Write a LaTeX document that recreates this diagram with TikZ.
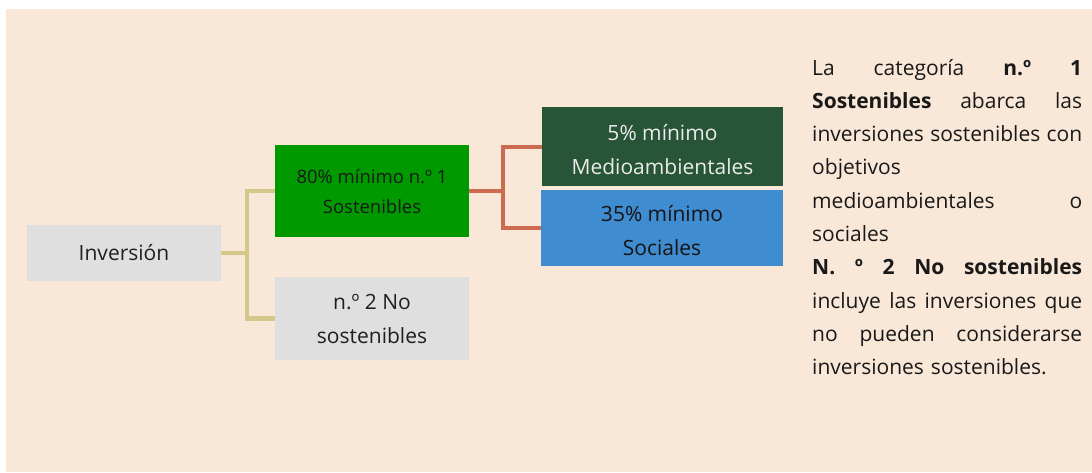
\documentclass[tikz,border=0pt]{standalone}
\usepackage{fontspec}
\setmainfont{Open Sans}
\definecolor{fondo}{HTML}{F9E7D7}
\definecolor{gris}{HTML}{DFDFDF}
\definecolor{verde}{HTML}{009A00}
\definecolor{verdeosc}{HTML}{285438}
\definecolor{azul}{HTML}{3F8CD0}
\definecolor{oliva}{HTML}{D4C78A}
\definecolor{teja}{HTML}{CC6B4F}
\newcommand{\linea}[1]{\makebox[270pt][s]{\spaceskip=0pt\xspaceskip=0pt #1}}
\tikzset{caja/.style={inner sep=0pt,align=center,font=\fontsize{21}{34}\selectfont},
  rama/.style={line width=#1}}
\begin{document}
\begin{tikzpicture}[x=1pt,y=-1pt]
\useasboundingbox (0,0) rectangle (1092,472);
\fill[white] (0,0) rectangle (1092,472);
\fill[fondo] (6,9) rectangle (1092,472);
\node[caja,fill=gris,text=black!88,minimum width=194pt,minimum height=56pt] (inv) at (124,253) {Inversión};
\node[caja,fill=verde,text=black!90,minimum width=194pt,minimum height=92pt,font=\fontsize{18.5}{30}\selectfont] (s1) at (372,191) {80\% mínimo n.º 1\\Sostenibles};
\node[caja,fill=gris,text=black!88,minimum width=194pt,minimum height=83pt] (s2) at (372,318.5) {n.º 2 No\\sostenibles};
\node[caja,fill=verdeosc,text=white!92!black,minimum width=241pt,minimum height=79pt,text height=56pt] (med) at (662.5,146.5) {5\% mínimo\\Medioambientales};
\node[caja,fill=azul,text=black!92,minimum width=242pt,minimum height=76pt,text height=56pt] (soc) at (662,228) {35\% mínimo\\Sociales};
% ramas
\coordinate (j1) at (247,253);
\coordinate (j2) at (503,191);
\draw[oliva,rama=4.5pt] (inv.east) -- (j1);
\draw[oliva,rama=4.5pt] (s1.west) -| (j1) |- (s2.west);
\draw[teja,rama=4pt] (s1.east) -- (j2);
\draw[teja,rama=4pt] (med.west) -| (j2) |- (soc.west);
% texto lateral
\node[inner sep=0pt,anchor=base west,text width=270pt,align=left,text=black!90,font=\fontsize{21}{33.3}\selectfont] (nota) at (812,75)
  {\linea{La categoría \textbf{n.º 1}}\\
   \linea{\textbf{Sostenibles} abarca las}\\
   \linea{inversiones sostenibles con}\\
   objetivos\\
   \linea{medioambientales o}\\
   sociales\\
   \linea{\textbf{N. º 2 No sostenibles}}\\
   \linea{incluye las inversiones que}\\
   \linea{no pueden considerarse}\\
   inversiones sostenibles.};
\end{tikzpicture}
\end{document}
